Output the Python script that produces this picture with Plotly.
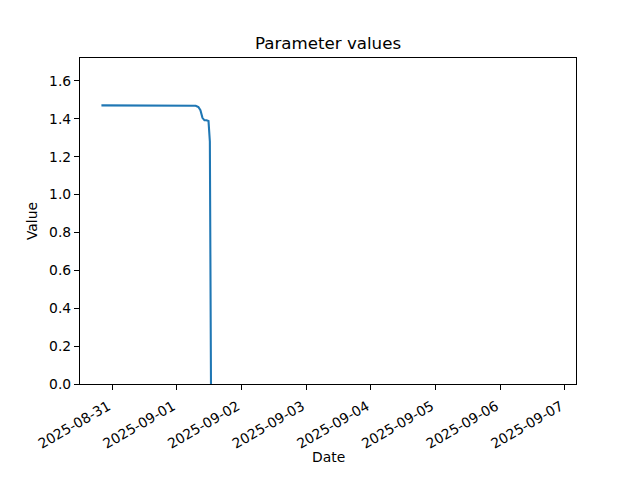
import plotly.graph_objects as go

times = [
    "2025-08-30 20:00", "2025-08-31 00:00", "2025-08-31 04:00", "2025-08-31 08:00",
    "2025-08-31 12:00", "2025-08-31 16:00", "2025-08-31 20:00", "2025-09-01 00:00",
    "2025-09-01 04:00", "2025-09-01 07:00", "2025-09-01 08:00", "2025-09-01 08:45",
    "2025-09-01 09:30", "2025-09-01 10:15", "2025-09-01 11:00", "2025-09-01 11:45",
    "2025-09-01 12:15", "2025-09-01 12:40",
]
values = [
    1.471, 1.471, 1.470, 1.469, 1.469, 1.470, 1.470, 1.470,
    1.470, 1.469, 1.462, 1.445, 1.405, 1.392, 1.392, 1.388,
    1.280, 0.0,
]

tick_dates = ["2025-08-31", "2025-09-01", "2025-09-02", "2025-09-03",
              "2025-09-04", "2025-09-05", "2025-09-06", "2025-09-07"]
y_ticks = [0.0, 0.2, 0.4, 0.6, 0.8, 1.0, 1.2, 1.4, 1.6]

W, H = 632, 472  # page body has an 8px margin
PLOT_H = H - 50 - 96

fig = go.Figure()
fig.add_trace(go.Scatter(x=times, y=values, mode="lines",
                         line=dict(color="#1f77b4", width=2.08)))

font = dict(family="DejaVu Sans", size=13.89, color="black")
fig.update_layout(
    width=W, height=H,
    margin=dict(l=72, r=64, t=50, b=96),
    paper_bgcolor="white", plot_bgcolor="white",
    showlegend=False,
    font=font,
    title=dict(text="Parameter values", x=0.5, xref="paper", xanchor="center",
               y=(H - 35) / H, yref="container", yanchor="middle",
               font=dict(family="DejaVu Sans", size=16.67, color="black")),
    annotations=[dict(text="Date", x=0.5, y=-72.5 / PLOT_H, xref="paper", yref="paper",
                      xanchor="center", yanchor="middle", showarrow=False, font=font)],
)
fig.update_xaxes(
    type="date",
    range=["2025-08-30 12:03", "2025-09-07 04:09"],
    tickmode="array", tickvals=tick_dates, ticktext=tick_dates,
    tickangle=-30, ticks="outside", ticklen=5, tickwidth=1.1, tickcolor="black",
    ticklabelstandoff=3, ticklabelshift=-4,
    showline=True, linecolor="black", linewidth=1.1, mirror=True,
    showgrid=False, zeroline=False,
    tickfont=font, automargin=False,
)
fig.update_yaxes(
    range=[0, 1.721],
    tickmode="array", tickvals=y_ticks, ticktext=[f"{v:.1f}" for v in y_ticks],
    ticks="outside", ticklen=5, tickwidth=1.1, tickcolor="black",
    showline=True, linecolor="black", linewidth=1.1, mirror=True,
    showgrid=False, zeroline=False,
    title=dict(text="Value", standoff=8, font=font),
    tickfont=font, automargin=False,
)

fig.write_html("out.html")
